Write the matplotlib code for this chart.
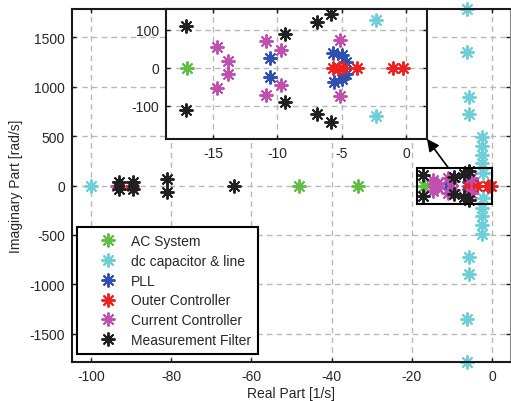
import numpy as np
import matplotlib.pyplot as plt
from matplotlib.patches import Rectangle
from matplotlib.lines import Line2D

plt.rcParams['font.family'] = ['Liberation Sans', 'DejaVu Sans']
plt.rcParams['font.size'] = 10
plt.rcParams['axes.unicode_minus'] = False

# eigenvalues (real part [1/s], imaginary part [rad/s])
ac_re = [-48.0, -33.5, -17.0]
ac_im = [0, 0, 0]

dc_re = [-100.0, -6.3, -6.3, -6.3, -6.3, -5.8, -5.8, -5.6, -5.6,
         -2.4, -2.4, -2.4, -2.4, -2.4, -2.4, -2.4, -2.4, -2.3, -2.3]
dc_im = [0, 1780, -1780, 1350, -1350, 890, -890, 725, -725,
         490, -490, 400, -400, 310, -310, 230, -230, 126, -126]

pll_re = [-10.6, -10.6, -5.7, -5.6, -5.0, -5.0, -4.7, -4.7]
pll_im = [25, -25, 40, -38, 35, -30, 15, -15]

outer_re = [-89.8, -5.65, -5.2, -4.87, -3.83, -0.99, -0.21]
outer_im = [0, 0, 0, 0, 0, 0, 0]

cc_re = [-93.5, -14.7, -14.7, -13.8, -13.8, -10.9, -10.9, -9.7, -9.7, -5.1, -5.1]
cc_im = [0, 54, -54, 17, -17, 72, -72, 46, -46, 73, -73]

mf_re = [-93.0, -93.0, -89.5, -89.5, -81.0, -81.0, -64.3,
         -17.1, -17.1, -9.4, -9.4, -6.9, -6.9, -5.8, -5.8]
mf_im = [40, -40, 40, -40, 67, -67, 0,
         110, -110, 89, -89, 120, -120, 142, -142]

series = [
    ("AC System", ac_re, ac_im, "#62bd45"),
    ("dc capacitor & line", dc_re, dc_im, "#6ccfda"),
    ("PLL", pll_re, pll_im, "#3050b0"),
    ("Outer Controller", outer_re, outer_im, "#f02020"),
    ("Current Controller", cc_re, cc_im, "#c050b0"),
    ("Measurement Filter", mf_re, mf_im, "#202020"),
]

ast = (8, 2, 0)
mk = dict(ls="none", marker=ast, ms=10, mew=1.4)
grid_kw = dict(color="#b8b8b8", ls=(0, (4, 3)), lw=1)


def style(a):
    for s in a.spines.values():
        s.set_linewidth(1.5)
        s.set_color("#1a1a1a")
    a.tick_params(direction="in", length=3, width=1, top=True, right=True,
                  colors="#1a1a1a", labelcolor="#262626", pad=5)
    a.grid(True, **grid_kw)
    a.set_axisbelow(True)


fig = plt.figure(figsize=(5.11, 4.02), dpi=100)
ax = fig.add_axes([72 / 511, 39 / 402, 438 / 511, 353 / 402])
style(ax)
ax.spines["right"].set_linewidth(0.8)
ax.spines["right"].set_color("#888888")

handles = []
for name, re, im, c in series:
    ax.plot(re, im, color=c, clip_on=False, **mk)
    handles.append(Line2D([], [], color=c, label=name, **mk))

ax.set_xlim(-104.7, 4.5)
ax.set_ylim(-1785, 1785)
ax.set_xticks(np.arange(-100, 1, 20))
ax.set_yticks(np.arange(-1500, 1501, 500))
ax.set_xlabel("Real Part [1/s]", color="#262626", labelpad=2)
ax.set_ylabel("Imaginary Part [rad/s]", color="#262626", labelpad=5)

ax.add_patch(Rectangle((-18.6, -190), 18.6, 370, fill=False, ec="k", lw=1.5, zorder=5))

leg = ax.legend(handles=handles, loc="lower left", bbox_to_anchor=(0.0114, 0.0227),
                borderaxespad=0, fancybox=False, framealpha=1, edgecolor="k",
                labelspacing=0.42, handlelength=3.4, handletextpad=0.0,
                borderpad=0.5, labelcolor="#262626")
leg.get_frame().set_linewidth(1.5)

# zoomed inset
ins = fig.add_axes([166 / 511, 262 / 402, 261 / 511, 130 / 402])
ins.set_facecolor("white")
style(ins)
for name, re, im, c in series:
    ins.plot(re, im, color=c, **mk)
ins.set_xlim(-18.65, 1.63)
ins.set_ylim(-187, 155)
ins.set_xticks([-15, -10, -5, 0])
ins.set_yticks([-100, 0, 100])

ins.annotate("", xy=(1, 0), xycoords=ins.transAxes,
             xytext=(-10.9, 180), textcoords=ax.transData,
             arrowprops=dict(arrowstyle="-|>", color="k", lw=1.2,
                             mutation_scale=18, shrinkA=0, shrinkB=0),
             annotation_clip=False)

fig.savefig("out.png", dpi=100)
